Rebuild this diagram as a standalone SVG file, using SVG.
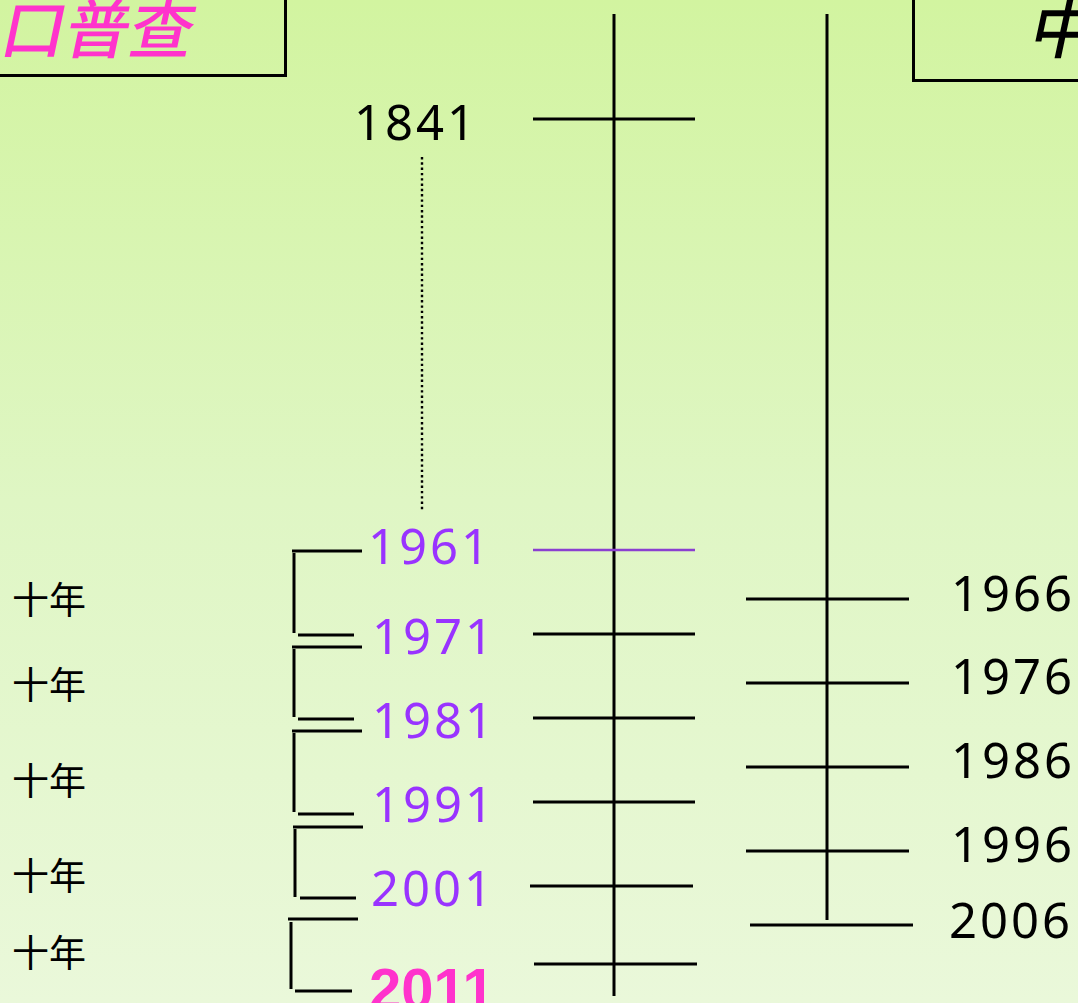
<svg xmlns="http://www.w3.org/2000/svg" width="1078" height="1003" viewBox="0 0 1078 1003">
<defs>
<linearGradient id="bg" x1="0" y1="0" x2="0" y2="1">
<stop offset="0" stop-color="#D2F4A0"/>
<stop offset="0.5" stop-color="#DFF6C4"/>
<stop offset="1" stop-color="#EAF8DA"/>
</linearGradient>
</defs>
<style>
.ln{stroke:#000;stroke-width:3;fill:none}
.br{stroke:#000;stroke-width:3;fill:none}
.yr{font-family:"Noto Sans","Open Sans","DejaVu Sans",sans-serif;font-size:49px;letter-spacing:3px}
.blk{fill:#000}
.pur{fill:#9933FF}
.dec{font-family:"Noto Sans CJK SC","Noto Sans CJK JP",sans-serif;font-size:37px;fill:#000}
.ttl{font-family:"Noto Sans CJK SC","Noto Sans CJK JP",sans-serif;font-size:64px;font-weight:500}
</style>
<rect width="1078" height="1003" fill="url(#bg)"/>
<g id="title-left">
<path class="ln" d="M0 75.5 H285.5 V0"/>
<text class="ttl" x="-2" y="53" fill="#FF33CC" transform="skewX(-12)" transform-origin="0 53">口普查</text>
</g>
<g id="title-right">
<path class="ln" d="M913.5 0 V80.5 H1078"/>
<text class="ttl" x="1027" y="53" fill="#000" transform="skewX(-12)" transform-origin="1030 53">中</text>
</g>
<g id="connectors">
<line class="ln" x1="614" y1="14" x2="614" y2="996"/>
<line class="ln" x1="827" y1="14" x2="827" y2="920"/>
<line class="ln" x1="533" y1="119" x2="695" y2="119"/>
<line x1="533" y1="550" x2="695" y2="550" stroke="#8A3FD0" stroke-width="2.5"/>
<line class="ln" x1="533" y1="634" x2="695" y2="634"/>
<line class="ln" x1="533" y1="718" x2="695" y2="718"/>
<line class="ln" x1="533" y1="802" x2="695" y2="802"/>
<line class="ln" x1="530" y1="886" x2="693" y2="886"/>
<line class="ln" x1="534" y1="964" x2="697" y2="964"/>
<line class="ln" x1="746" y1="599" x2="909" y2="599"/>
<line class="ln" x1="746" y1="683" x2="909" y2="683"/>
<line class="ln" x1="746" y1="767" x2="909" y2="767"/>
<line class="ln" x1="746" y1="851" x2="909" y2="851"/>
<line class="ln" x1="750" y1="925" x2="913" y2="925"/>
<line x1="422" y1="157" x2="422" y2="512" stroke="#000" stroke-width="2.4" stroke-dasharray="2.4 2.9"/>
<g id="brackets">
<line class="br" x1="292" y1="551" x2="362" y2="551"/>
<line class="br" x1="294" y1="553" x2="294" y2="633"/>
<line class="br" x1="298" y1="635" x2="354" y2="635"/>
<line class="br" x1="292" y1="647" x2="362" y2="647"/>
<line class="br" x1="294" y1="649" x2="294" y2="717"/>
<line class="br" x1="298" y1="719" x2="354" y2="719"/>
<line class="br" x1="292" y1="731" x2="362" y2="731"/>
<line class="br" x1="294" y1="733" x2="294" y2="812"/>
<line class="br" x1="298" y1="814" x2="354" y2="814"/>
<line class="br" x1="293" y1="827" x2="363" y2="827"/>
<line class="br" x1="295" y1="829" x2="295" y2="897"/>
<line class="br" x1="300" y1="898" x2="356" y2="898"/>
<line class="br" x1="288" y1="919" x2="358" y2="919"/>
<line class="br" x1="291" y1="922" x2="291" y2="989"/>
<line class="br" x1="295" y1="991" x2="352" y2="991"/>
</g>
</g>
<g id="y1841"><text class="yr blk" x="354" y="140">1841</text></g>
<g id="y1961"><text class="yr pur" x="368" y="564">1961</text></g>
<g id="y1971"><text class="yr pur" x="372" y="654">1971</text></g>
<g id="y1981"><text class="yr pur" x="372" y="738">1981</text></g>
<g id="y1991"><text class="yr pur" x="372" y="822">1991</text></g>
<g id="y2001"><text class="yr pur" x="371" y="906">2001</text></g>
<g id="y2011"><text x="369" y="1009" font-family="'Liberation Sans',Arial,sans-serif" font-weight="bold" font-size="58px" fill="#FF33CC">2011</text></g>
<g id="y1966"><text class="yr blk" x="951" y="611">1966</text></g>
<g id="y1976"><text class="yr blk" x="951" y="694">1976</text></g>
<g id="y1986"><text class="yr blk" x="951" y="778">1986</text></g>
<g id="y1996"><text class="yr blk" x="951" y="862">1996</text></g>
<g id="y2006"><text class="yr blk" x="949" y="938">2006</text></g>
<g id="d1"><text class="dec" x="12" y="614">十年</text></g>
<g id="d2"><text class="dec" x="12" y="699">十年</text></g>
<g id="d3"><text class="dec" x="12" y="795">十年</text></g>
<g id="d4"><text class="dec" x="12" y="890">十年</text></g>
<g id="d5"><text class="dec" x="12" y="967">十年</text></g>
</svg>
